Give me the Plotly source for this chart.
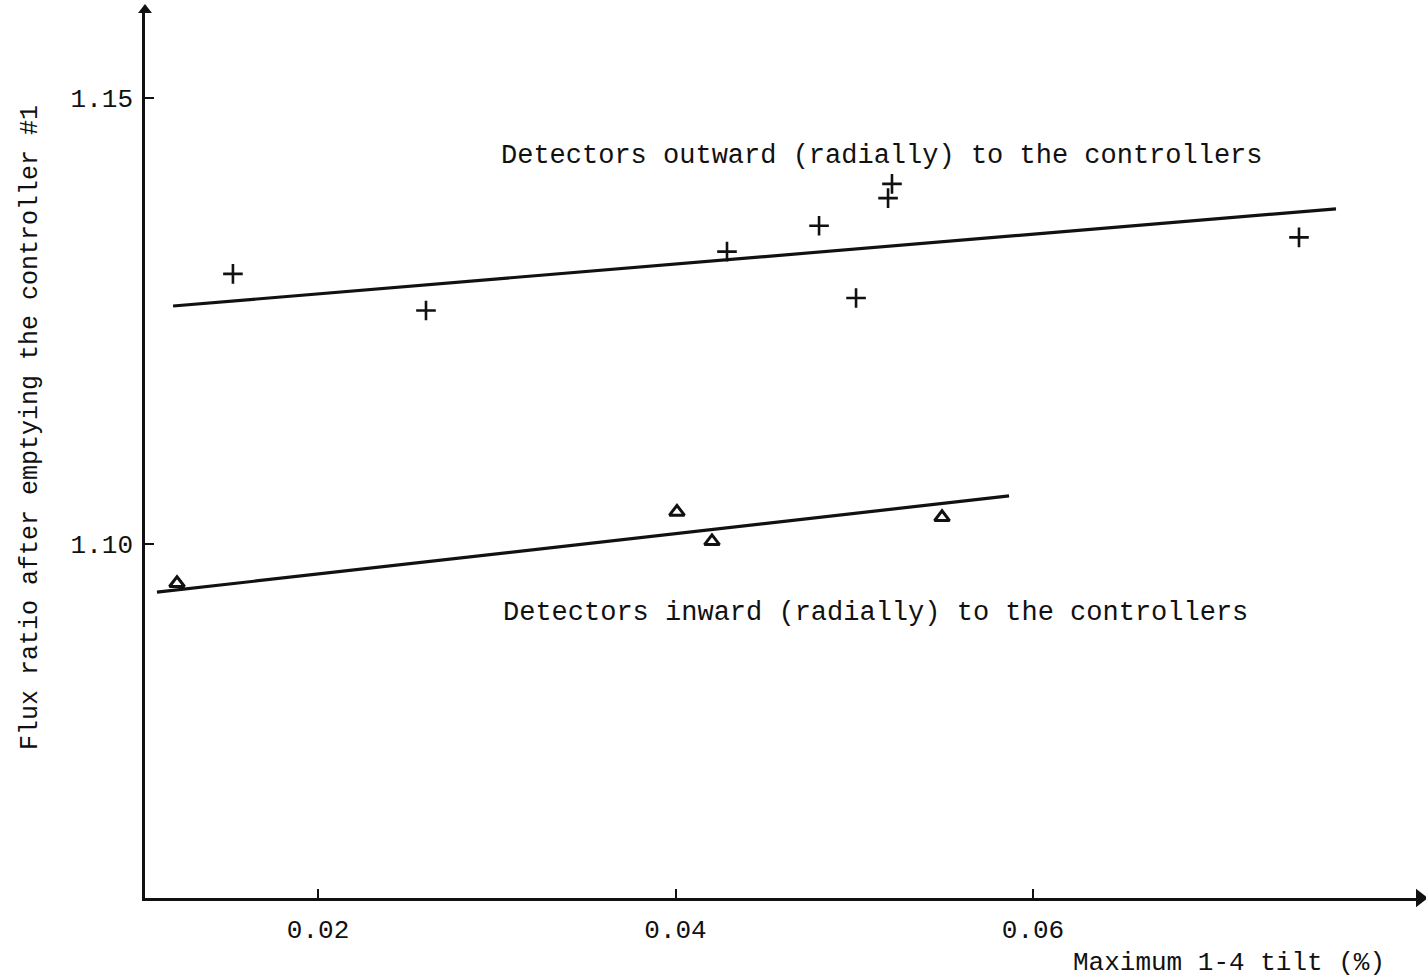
import plotly.graph_objects as go

# Detectors outward (radially) to the controllers
outward_tilt = [0.01524, 0.02604, 0.04288, 0.04803, 0.05010, 0.05211, 0.05189, 0.07488]
outward_ratio = [1.1303, 1.1262, 1.1328, 1.1357, 1.1276, 1.1404, 1.1388, 1.1344]

# Detectors inward (radially) to the controllers
inward_tilt = [0.01211, 0.04008, 0.04204, 0.05491]
inward_ratio = [1.0956, 1.1036, 1.1003, 1.1030]

# Fitted straight lines (end points)
outward_fit_tilt = [0.01189, 0.07695]
outward_fit_ratio = [1.1267, 1.1376]
inward_fit_tilt = [0.01099, 0.05866]
inward_fit_ratio = [1.0946, 1.1054]

x_ticks = [0.02, 0.04, 0.06]
x_tick_labels = ["0.02", "0.04", "0.06"]
y_ticks = [1.10, 1.15]
y_tick_labels = ["1.10", "1.15"]

x_range = [0.01032, 0.08165]
y_range = [1.0603, 1.1599]

FONT = "Liberation Mono"
INK = "#111111"

fig = go.Figure()

fig.add_trace(go.Scatter(x=outward_fit_tilt, y=outward_fit_ratio, mode="lines",
                         line=dict(color=INK, width=3.2), showlegend=False))
fig.add_trace(go.Scatter(x=inward_fit_tilt, y=inward_fit_ratio, mode="lines",
                         line=dict(color=INK, width=3.2), showlegend=False))

fig.add_trace(go.Scatter(x=outward_tilt, y=outward_ratio, mode="markers",
                         marker=dict(symbol="cross-thin", size=14,
                                     line=dict(color=INK, width=2.6)),
                         showlegend=False))
fig.add_trace(go.Scatter(x=inward_tilt, y=inward_ratio, mode="markers",
                         marker=dict(symbol="triangle-up-open", size=13, color=INK,
                                     line=dict(color=INK, width=3)),
                         showlegend=False))

# Arrow heads at the ends of both axes
fig.add_trace(go.Scatter(x=[x_range[1]], y=[y_range[0]], mode="markers",
                         marker=dict(symbol="triangle-right", size=16, color=INK),
                         cliponaxis=False, showlegend=False))
fig.add_trace(go.Scatter(x=[x_range[0]], y=[y_range[1]], mode="markers",
                         marker=dict(symbol="triangle-up", size=12, color=INK),
                         cliponaxis=False, showlegend=False))

fig.add_annotation(x=0.05155, y=1.1435, text="Detectors outward (radially) to the controllers",
                   showarrow=False, font=dict(family=FONT, size=27, color=INK))
fig.add_annotation(x=0.05116, y=1.0923, text="Detectors inward (radially) to the controllers",
                   showarrow=False, font=dict(family=FONT, size=27, color=INK))

# Axis titles
fig.add_annotation(x=0.974, xref="paper", y=-0.0732, yref="paper",
                   text="Maximum 1-4 tilt (%)", showarrow=False,
                   xanchor="right", yanchor="middle",
                   font=dict(family=FONT, size=26, color=INK))
fig.add_annotation(x=-0.0902, xref="paper", y=0.5304, yref="paper",
                   text="Flux ratio after emptying the controller #1", textangle=-90,
                   showarrow=False, xanchor="center", yanchor="middle",
                   font=dict(family=FONT, size=25, color=INK))

fig.update_layout(
    width=1426, height=979,
    margin=dict(l=145, r=6, t=10, b=81),
    paper_bgcolor="white", plot_bgcolor="white",
    font=dict(family=FONT, size=26, color=INK),
)

fig.update_xaxes(range=x_range, tickvals=x_ticks, ticktext=x_tick_labels,
                 ticks="inside", ticklen=9, tickwidth=2, tickcolor=INK,
                 showline=True, linewidth=2.6, linecolor=INK,
                 showgrid=False, zeroline=False, ticklabelstandoff=6)
fig.update_yaxes(range=y_range, tickvals=y_ticks, ticktext=y_tick_labels,
                 ticks="inside", ticklen=9, tickwidth=2, tickcolor=INK,
                 showline=True, linewidth=2.6, linecolor=INK,
                 showgrid=False, zeroline=False, ticklabelstandoff=4)

fig.write_html("out.html")
